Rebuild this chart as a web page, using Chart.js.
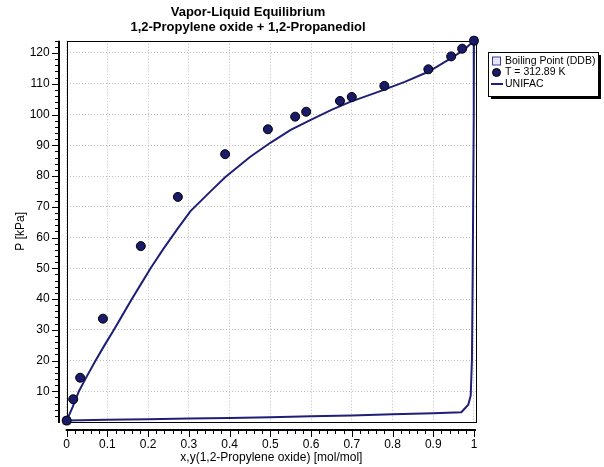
<!DOCTYPE html>
<html><head><meta charset="utf-8">
<script src="https://cdn.jsdelivr.net/npm/chart.js@4/dist/chart.umd.min.js"></script>
<style>html,body{margin:0;padding:0;background:#fff}</style>
</head><body>
<canvas id="c" width="604" height="467"></canvas>
<script>
const titleLines = ['Vapor-Liquid Equilibrium', '1,2-Propylene oxide + 1,2-Propanediol'];
const xAxisTitle = 'x,y(1,2-Propylene oxide) [mol/mol]';
const yAxisTitle = 'P [kPa]';
const legendLabels = ['Boiling Point (DDB)', 'T = 312.89 K', 'UNIFAC'];

const xTicks = [0, 0.1, 0.2, 0.3, 0.4, 0.5, 0.6, 0.7, 0.8, 0.9, 1];
const yTicks = [10, 20, 30, 40, 50, 60, 70, 80, 90, 100, 110, 120];

const boilingX = [0, 1];
const boilingP = [0.45, 124.0];

const expX = [0, 0.016, 0.033, 0.089, 0.182, 0.273, 0.389, 0.494, 0.561, 0.588, 0.671, 0.700, 0.780, 0.888, 0.944, 0.971, 1.0];
const expP = [0.45, 7.4, 14.4, 33.6, 57.2, 73.2, 87.1, 95.2, 99.3, 100.9, 104.4, 105.7, 109.3, 114.7, 118.9, 121.4, 124.0];

const bubbleX = [0, 0.015, 0.03, 0.05, 0.071, 0.093, 0.116, 0.138, 0.16, 0.183, 0.206, 0.237, 0.272, 0.304, 0.35, 0.389, 0.45, 0.5, 0.55, 0.598, 0.65, 0.696, 0.77, 0.83, 0.888, 0.944, 0.975, 1];
const bubbleP = [0.45, 5, 10, 15, 20, 25, 30, 35, 40, 45, 50, 56.2, 62.8, 68.6, 74.6, 79.6, 86.2, 90.8, 95, 98.2, 101.5, 104.1, 107.6, 110.6, 113.9, 118.3, 121, 124];

const dewX = [1, 0.999, 0.997, 0.995, 0.992, 0.986, 0.969, 0.9, 0.8, 0.7, 0.6, 0.5, 0.4, 0.3, 0.2, 0.1, 0];
const dewP = [124, 100, 50, 20, 8.6, 5.6, 3.2, 2.85, 2.5, 2.15, 1.85, 1.55, 1.3, 1.1, 0.9, 0.7, 0.45];

const NAVY = '#1f1f77';
const FONT = "'Liberation Sans', Arial, Helvetica, sans-serif";

const toPts = (xs, ys) => xs.map((v, i) => ({x: v, y: ys[i]}));
const unifacPts = toPts(bubbleX, bubbleP).concat(toPts(dewX, dewP));

const decor = {
  id: 'decor',
  beforeDatasetsDraw(chart) {
    const {ctx, chartArea: a} = chart;
    ctx.save();
    ctx.strokeStyle = '#000';
    ctx.lineWidth = 1;
    ctx.strokeRect(Math.round(a.left) + 0.5, Math.round(a.top) + 0.5, Math.round(a.right - a.left), Math.round(a.bottom - a.top));
    ctx.restore();
  },
  afterDraw(chart) {
    const {ctx, chartArea: a, scales: {x, y}} = chart;
    ctx.save();
    ctx.strokeStyle = '#000';

    // y axis (offset)
    const ax = Math.round(a.left) - 8;
    ctx.lineWidth = 2;
    ctx.beginPath(); ctx.moveTo(ax, a.top); ctx.lineTo(ax, a.bottom + 1); ctx.stroke();
    ctx.lineWidth = 1;
    for (let v = 2; v <= y.max; v += 2) {
      const py = Math.round(y.getPixelForValue(v)) + 0.5;
      const len = (v % 10 === 0) ? 6 : 3;
      ctx.beginPath(); ctx.moveTo(ax - 1 - len, py); ctx.lineTo(ax, py); ctx.stroke();
    }
    // x axis (offset)
    const ay = Math.round(a.bottom) + 8;
    ctx.lineWidth = 2;
    ctx.beginPath(); ctx.moveTo(a.left - 1, ay); ctx.lineTo(a.right, ay); ctx.stroke();
    ctx.lineWidth = 1;
    for (let i = 0; i <= 50; i++) {
      const v = i / 50;
      const px = Math.round(x.getPixelForValue(v)) + 0.5;
      const len = (i % 5 === 0) ? 6 : 3;
      ctx.beginPath(); ctx.moveTo(px, ay); ctx.lineTo(px, ay + 1 + len); ctx.stroke();
    }

    // titles
    ctx.fillStyle = '#000';
    ctx.textAlign = 'center';
    ctx.textBaseline = 'middle';
    ctx.font = 'bold 13px ' + FONT;
    ctx.fillText(titleLines[0], 248, 12);
    ctx.fillText(titleLines[1], 248, 27);

    ctx.font = '12px ' + FONT;
    ctx.fillText(xAxisTitle, (a.left + a.right) / 2, 458);
    ctx.save();
    ctx.translate(21, (a.top + a.bottom) / 2);
    ctx.rotate(-Math.PI / 2);
    ctx.fillText(yAxisTitle, 0, 0);
    ctx.restore();

    // legend
    const lx = 488, ly = 52, lw = 110, lh = 44;
    ctx.fillStyle = '#000';
    ctx.fillRect(lx + 3, ly + 3, lw, lh);
    ctx.fillStyle = '#fff';
    ctx.fillRect(lx, ly, lw, lh);
    ctx.strokeStyle = '#000';
    ctx.lineWidth = 1;
    ctx.strokeRect(lx + 0.5, ly + 0.5, lw, lh);
    const rows = [60.5, 72, 83.5];
    // square
    ctx.fillStyle = 'rgba(150,150,220,0.25)';
    ctx.fillRect(492.5, rows[0] - 3.5, 8, 8);
    ctx.strokeStyle = '#3c3ca0';
    ctx.strokeRect(492.5, rows[0] - 3.5, 8, 8);
    // circle
    ctx.beginPath(); ctx.arc(496.5, rows[1] + 0.5, 4, 0, Math.PI * 2);
    ctx.fillStyle = '#1a1a6b'; ctx.fill();
    ctx.strokeStyle = '#000'; ctx.stroke();
    // line
    ctx.strokeStyle = NAVY; ctx.lineWidth = 2;
    ctx.beginPath(); ctx.moveTo(491, rows[2] + 0.5); ctx.lineTo(503, rows[2] + 0.5); ctx.stroke();
    ctx.fillStyle = '#000';
    ctx.textAlign = 'left';
    ctx.font = '10.5px ' + FONT;
    legendLabels.forEach((t, i) => ctx.fillText(t, 505, rows[i] + 0.5));
    ctx.restore();
  }
};

new Chart(document.getElementById('c'), {
  type: 'scatter',
  data: {
    datasets: [
      {
        label: legendLabels[1], data: toPts(expX, expP), order: 0, clip: false,
        pointRadius: 4.5, pointBackgroundColor: '#1a1a6b', pointBorderColor: '#000', pointBorderWidth: 1,
        showLine: false
      },
      {
        label: legendLabels[0], data: toPts(boilingX, boilingP), order: 1, clip: false,
        pointStyle: 'rect', pointRadius: 5, pointBackgroundColor: 'rgba(150,150,220,0.3)', pointBorderColor: '#3c3ca0', pointBorderWidth: 1,
        showLine: false
      },
      {
        label: legendLabels[2], data: unifacPts, order: 2,
        showLine: true, borderColor: NAVY, borderWidth: 2, pointRadius: 0, tension: 0, fill: false
      }
    ]
  },
  options: {
    responsive: false,
    devicePixelRatio: 1,
    animation: false,
    layout: {padding: {top: 40.7, right: 128, bottom: 0, left: 0}},
    plugins: {legend: {display: false}, tooltip: {enabled: false}, title: {display: false}},
    scales: {
      x: {
        type: 'linear', min: 0, max: 1.005,
        afterFit: s => { s.height = 45; },
        afterBuildTicks: s => { s.ticks = xTicks.map(v => ({value: v})); },
        ticks: {padding: 15, color: '#000', font: {family: FONT, size: 12},
          callback: v => String(+Number(v).toFixed(1))},
        grid: {color: '#bdbdbd', lineWidth: 1, drawTicks: false},
        border: {display: false, dash: [1, 2]}
      },
      y: {
        type: 'linear', min: 0, max: 124,
        afterFit: s => { s.width = 66.7; },
        afterBuildTicks: s => { s.ticks = yTicks.map(v => ({value: v})); },
        ticks: {padding: 17, color: '#000', font: {family: FONT, size: 12}},
        grid: {color: '#bdbdbd', lineWidth: 1, drawTicks: false},
        border: {display: false, dash: [1, 2]}
      }
    }
  },
  plugins: [decor]
});
</script>
</body></html>
